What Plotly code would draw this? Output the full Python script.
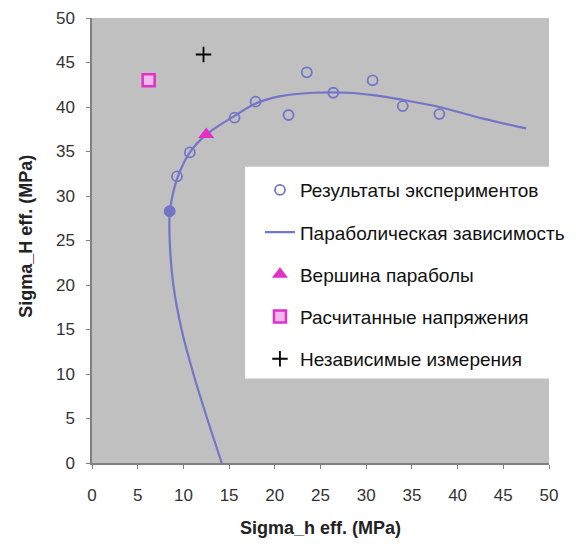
import plotly.graph_objects as go

# Experimental results (Sigma_h eff, Sigma_H eff), MPa
exp_x = [8.5, 9.3, 10.7, 15.6, 17.9, 21.5, 23.5, 26.4, 30.7, 34.0, 38.0]
exp_y = [28.3, 32.2, 34.9, 38.8, 40.6, 39.1, 43.9, 41.6, 43.0, 40.1, 39.2]

# Parabolic dependence
curve_x = [14.2, 12.6, 11.1, 9.8, 8.9, 8.5, 8.5, 8.8, 9.4, 10.7, 12.5, 15.6,
           17.9, 20.5, 24.2, 28.0, 31.0, 34.0, 38.0, 42.8, 47.5]
curve_y = [0.0, 5.0, 10.0, 15.0, 20.0, 25.0, 28.0, 30.0, 32.2, 34.9, 36.9, 39.0,
           40.4, 41.2, 41.6, 41.6, 41.3, 40.8, 40.0, 38.7, 37.6]

# Vertex of the parabola
vertex_x = [12.5]
vertex_y = [36.9]

# Calculated stresses
calc_x = [6.2]
calc_y = [43.0]

# Independent measurements
indep_x = [12.2]
indep_y = [45.9]

names = ["Результаты экспериментов", "Параболическая зависимость",
         "Вершина параболы", "Расчитанные напряжения", "Независимые измерения"]
x_title = "Sigma_h eff. (MPa)"
y_title = "Sigma_H eff. (MPa)"

FONT = "Arial, Liberation Sans, sans-serif"
BLUE = "#7474C8"
MAGENTA = "#E030C8"

fig = go.Figure()

fig.add_trace(go.Scatter(
    x=curve_x, y=curve_y, mode="lines", name=names[1], legendgroup="g2",
    line=dict(color=BLUE, width=2.2, shape="spline", smoothing=1.0),
    legendrank=2,
))
fig.add_trace(go.Scatter(
    x=exp_x, y=exp_y, mode="markers", name=names[0], legendgroup="g1",
    marker=dict(symbol="circle-open", size=10, color=BLUE, line=dict(width=1.8, color=BLUE)),
    legendrank=1,
))
fig.add_trace(go.Scatter(
    x=exp_x[:1], y=exp_y[:1], mode="markers", showlegend=False, legendgroup="g1",
    marker=dict(symbol="circle", size=11, color=BLUE),
))
fig.add_trace(go.Scatter(
    x=vertex_x, y=vertex_y, mode="markers", name=names[2], legendgroup="g3",
    marker=dict(symbol="triangle-up", size=14, color=MAGENTA),
    legendrank=3,
))
fig.add_trace(go.Scatter(
    x=calc_x, y=calc_y, mode="markers", name=names[3], legendgroup="g4",
    marker=dict(symbol="square", size=12, color="#F4B8EC", line=dict(width=2.5, color=MAGENTA)),
    legendrank=4,
))
fig.add_trace(go.Scatter(
    x=indep_x, y=indep_y, mode="markers", name=names[4], legendgroup="g5",
    marker=dict(symbol="cross-thin", size=11, color="black", line=dict(width=1.8, color="black")),
    legendrank=5,
))

axis_common = dict(
    range=[0, 50], dtick=5, tick0=0, showgrid=False, zeroline=False,
    showline=True, linecolor="#808080", linewidth=1.5,
    ticks="outside", ticklen=4, tickcolor="#808080",
    tickfont=dict(family=FONT, size=17, color="#333333"),
    ticklabeloverflow="allow",
    fixedrange=True, automargin=False,
)

# The page body adds an 8px offset; figure is sized so the plot sits where the reference has it.
fig.update_layout(
    width=573, height=536,
    margin=dict(l=84, r=32, t=10, b=81),
    paper_bgcolor="white", plot_bgcolor="#C0C0C0",
    font=dict(family=FONT, size=13, color="black"),
    xaxis=dict(**axis_common, ticklabelstandoff=12),
    yaxis=dict(**axis_common, ticklabelstandoff=8),
    legend=dict(
        x=0.3675, y=0.656, xanchor="left", yanchor="top",
        bgcolor="white", borderwidth=0,
        font=dict(family=FONT, size=19, color="#111111"),
        tracegroupgap=14.5, itemwidth=30,
    ),
    showlegend=True,
    shapes=[
        # white legend panel, wider than plotly's own legend box
        dict(type="rect", xref="paper", yref="paper", layer="below",
             x0=0.335, x1=1.0, y0=0.19, y1=0.666,
             fillcolor="white", line=dict(width=0)),
    ],
    annotations=[
        dict(text="<b>" + x_title + "</b>", xref="paper", yref="paper",
             x=0.499, y=-0.145, xanchor="center", yanchor="middle", showarrow=False,
             font=dict(family=FONT, size=18, color="#222222")),
        dict(text="<b>" + y_title + "</b>", xref="paper", yref="paper",
             x=-0.145, y=0.51, xanchor="center", yanchor="middle", showarrow=False,
             textangle=-90, font=dict(family=FONT, size=18, color="#222222")),
    ],
)

fig.write_html("out.html")
